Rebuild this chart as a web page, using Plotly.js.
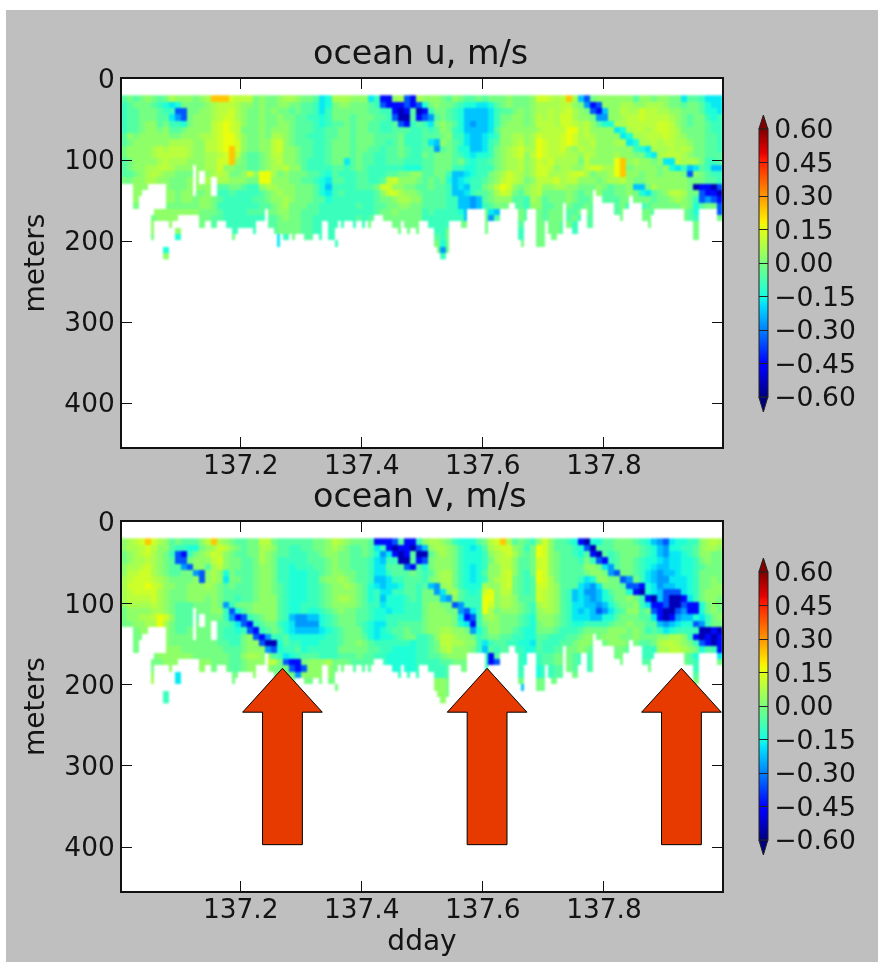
<!DOCTYPE html>
<html><head><meta charset="utf-8">
<script src="https://cdn.plot.ly/plotly-3.0.1.min.js"></script>
<style>
html,body{margin:0;padding:0;background:#fff;width:882px;height:963px;overflow:hidden}
#p{position:absolute;left:6px;top:10px;width:872px;height:952px;filter:blur(.55px)}
#p .heatmaplayer{filter:blur(1.1px)}
</style></head><body><div id="p"></div>
<script>
// velocity levels (m/s) used by the letter codes in the rows below
const levelCodes = {a:-.54,b:-.44,c:-.35,d:-.27,e:-.22,f:-.175,g:-.135,h:-.095,i:-.055,j:-.01,k:.03,l:.065,m:.09,n:.12,o:.16,p:.24};
const tickDays = [137.2,137.4,137.6,137.8];
const tickDepths = [0,100,200,300,400];
const cbarTicks = [-.6,-.45,-.3,-.15,0,.15,.3,.45,.6];
const arrowTipDays = [137.269,137.607,137.928];

// ocean u: 26 depth bins (top to bottom), 100 time groups (10 per block)
const uRows = [
"ijijkjijlk kkjklpppnm mmjkjjkllk jjifglllkk kfhbbklcbl kkkjikjiij ijjjkjjjkn nmlmplecjk kkkkkikkjk kjjfiihfff",
"hijjjihgfg jjjjklmmml kkjkjjkkjj iihfgjkkjj jihcbbbcbc gjkjjihggf fgijkjjjkl lllmmkjdbc kkkllkklll kjjijjigff",
"hiijjjihhc cjjkklmmnl kjjkjkjjij iihfhjjjjj jiihhbabia bhjjihgeee efhiijkjkl lmlmnlkjcb ekkmllnmml lkkjjjiggf",
"hiijjjiifd cjkkklmnnl kjjkjjkjji ihhghjjjij jjiihcaaib cdijihgeee efhjjkkjkm lmlnnlkkjd dkklmmnmmm mlkjijjhgh",
"hiijkkijhh gjkkkmnonm kjjkjjkkji iihghiijij jiihhicbhi hfjkjigede efhjkkkjkm mmlnnmlmki ggllmmmmmn nmkjijjihh",
"hiijkkjkii jkkkkmnonm jjjkjkkkji iihhiijjij jiihhiiihh ihikjhgeee efikkkkkkl mmmmoolmkk kkfglmmlmn nmljjjjihh",
"ikjkkkkkjj kkkllmnoom kjjkjllkji ihhhiijjij jjiiiijhhh iiijkhhfee fghkkllkln mmmnonlmlk kkkfgllmmm nmlkjjjiih",
"ijkkkkkkll llkkmmnoon kjjkkmnkji iihhijjjij jjiihijhhh ifekjihfee fhikklmklo nmmnonllmk kkllfgllml mmllkjjiih",
"jkkkklmlmm mlkkmmnopn kjjkkmnkkj iihhijjjij jiihiijihh iidijiggee fhjklmnllo nmmnlkmllk kkkkkhgfll lmlmljjiih",
"jkkkklmmmm mlkkllmnpm jiijkmmkkj iihhijjjij iihhiijihh jijjjihgfg ghjklmnkmo nmmmllkmlk kklkkjjgfl mmmlkjjiii",
"ijkkkklmll lkkkllnnpk jiijklmkkj ihhhijjfij iihhiiihhh iijjjijhgh hijkllmkln mnlllljmkk kkopklkkjk ffmllljhhi",
"ijkkllmmlk kkkkllnkkj jiijkllmkk ihhhhiihij ihhhhhhggg iijjjhhggh hhjkllmkln nmkllkkmnn llopjkkkkj kgfhefihee",
"iijklmlkkj jjkkklmljj knkooljkjj jiihgihhhi ihhhiijjkk iijjheefgh hjklnmlkln nlllmnnljk klopkkjkkj kkkjckjihh",
"jjkkllkkjj jkkkllllkk kjjookkkjj iihgfiihhi ihhimnkkkj ijijgefghh ijkmnmljkm mmnlmmkkkj kllmkjjkkk kkkkjjjiih",
"jjkkkkkkjj jkkkkkiijj ihhkllkkkj jjigehhhhi iijnnkkjji ijiihefehh jkmonkjklm kkllkkjjjk jijjkeejlk kkkkjabbac",
"jkkkkkkkkj kkjjkjhhih hhhijklkkj jjigfhihhh hhiknnlkkj iiiiheefhi ijlnmjiklm jjjjkjijjk iijjkjgfij kmmljjcbba",
"jjkjjjkkkj kkjkkjihhh hhiijkklkj jjiighhhhh hhijjkllkk iiiihheede ijkkkiihlk ijjjkjiijj iiijjjjjij jklkjhcdcb",
"jjjjjjjjjj jjjkkjhhhh hhhiijkljj jiihhhhhhi hhiijjkkjj iiiihheede hijjjiihkk iijjjiijij hhijhhhijj jjjkjgijjc",
"jjjjjkkkkk kkkjjjihhh hiiijjkkjj iiihhhhhhh hhijjkjjjj hihhhhgeef jfejjijijj ijjjiijjii ihijjijjij jjjjigiijc",
"jjjjjjkkkk kkjjjiihhh hhhhiijkjj iihhhhhhhi hiijjjjjjj hhhhhhhejj jdihjijijj ijjjijhiii ijjjjjjjjj jjjjihiijj",
"kkkkkkkkkk kjjjjiihhh hhhhiijjjj iihhhhhhhh hjjjjjjjjj ihhhhhjjjj jijjjiiijj jjjijhiiii jjjjjjjjjj jjjjijjjjj",
"kkkkkkkkkk kjjjjhiihh hhhhiijjjj iihhhhhhhh hjjjjjjjjj iihhjjjjjj jhjjjhhiij jjjihhhiii jjjjjjjjjj jjjjijjjjj",
"jjjjjjjjjg jjjjjjjjjj hhhhhhfhjj iihhhhhhhh jjjjjjjjjj jiihjjjjjj jjjjjjhhij jjjjhhiijj jjjjjjjjjj jjjjjjjjjj",
"jjjjjjjjjj jjjjjjjjjj hhhhhhfhjj iihhhhhhhh jjjjjjjjjj jjjgjjjjjj jjjjjjjjij jjjjjjjjjj jjjjjjjjjj jjjjjjjjjj",
"jjjjjjjgjj jjjjjjjjjj jjjjjjjjjj jjjjjjjjjj jjjjjjjjjj jjjdjjjjjj jjjjjjjjjj jjjjjjjjjj jjjjjjjjjj jjjjjjjjjj",
"jjjjjjjkjj jjjjjjjjjj jjjjjjjjjj jjjjjjjjjj jjjjjjjjjj jjjhjjjjjj jjjjjjjjjj jjjjjjjjjj jjjjjjjjjj jjjjjjjjjj"
];

// ocean v: same grid
const vRows = [
"klmnpnlkij iiikmplkji ijjmmjiiii iijjkmlkjj jibbbcibbh kllkjhgggi jmnplijihk nkiihgbagg iijjjihged cfgghhklml",
"kllmnmkkih hggjklnmkj ijjllkiihh iijjklkjii jifhbabbac ekllkjhgfg ilmnnkjhjo nkiiihgcai iijjjjihge dgghhikllk",
"jklmnlkjhc bhjklnmkji ijjlkjiihh hiijkkjjii jigdfbabia aiklkjhggg hklmnljijo nkjiihgiba ihijjjihge dffghikkjj",
"jkllmlkjic cjkkkmnkjj iijlkjhhhh hiiijkjjii ihfehhaaib cjkkkjhggg hjlmmkiijn nkjiiihjhc bhijjihggf effgghjkjj",
"kllmnlkjii dckkilmkjj iijkkjhhgh hhiijkjjii ihffiiicbi gjkkkjhgfg hkkmmkiijn nkjiiiikkj fdijjihgfe effgghijjj",
"kmmnnlkjii jjdcklkgji iijkkjhhgg ghhijkkjji ihffhiiiji hiklljhgfg ikkmnkihjo nkjiiiijkk jdcjjihfed eefgghjjjj",
"lmnnnmlkjj jjkcklkfjj iijkkjhhgg ghhjkklkji iheefhhiii hjklljhgfg hklmnjihio nljiiihfgk kjjcdjhfed dfffghjjkj",
"lnnnonmkkj jkkklkjiji iijkkjihgg ghhijkklkj igfeffgiih iedkljhggg lkkmnjihin nlkiiifedf jjjiccbgfd eeffghjjkk",
"lmnnnnlkjj jkkkkkjiii iijkkjihgg ghhijkkkkj ighffhhiih jjdfklihgh nokmmjihin mlkihefdde gijjgbagfe cccfghjkkk",
"lmmmmnlkjj jkkkjkjiih iijkkkihgg ghhijkllkj igheggghih jjjedkihhh ookllkiiin mlkihefede ghjjkjhbae caabfhjkkj",
"kllllmlkji iijjjkjdhj jjkkkkihgg hhhijkkkkj ihhfggghhh jkkjjcdhhh onkllkjihl mlkihffeed egijjkhfbb caacbbgjkj",
"jkkkkllkji iijjjkkhcg ijkkkkihgg hgghijkjji ihggfgghhh jkkkjjdcfh oljkkkjihk llkihfefec dfhikkijcb aacdbbgjkj",
"jkkllmonki iiijjjjhdb chijkkihed deeghijjji ihgghhhhhh jkkkkjfbch klkjjjihgk kkjihfffee ggijjjiifb abdeegfhjk",
"jjkkllolji iijjjjiihf cbhijjhgfd dddghijjji hgffhhiiii jkkkkjgfbh jkkjjjihgj kkjihgghhh hijjkjjiie defggcdhjj",
"jjjkkkkkji ijjjjjihhg hcbhijigfe eeefghijjj hgfghiijii jkkllkkjdg ikkjjihggj jjihhhijjj jkkkjkjhih fghhhhaaba",
"jjjjkkkkjj jjjjjjihhh jkcbdhhigg gggghhijjj igfgghijjh hikmmlkkjh ijjiihhggi ihhhiijkkj kkkjjkjjjk kllkhbabab",
"jjjjjkkkjj jjjjjjiihh jkkcaagihh ggghhhijjk jihhhhhhgh hijmmllkkh fhiihhggfi hhhiijkkjj jkkkjjiijl mmlkjhcbab",
"jjjjjjkkkk jjjjjjjiii jkkkdcghhi ghhhhhjjjj jiihhggggh hijlmkkkjh eihiihhggi hhiijjkjii ijjjihhhhl lmmlkjgihb",
"jjjjjjkkkk kkjjjjjjii kllkkihfgh iiihhhiiij iihhgggggh hiijkkkkig hbiihhhggh iijjjihhii ijjjhhhhhj jjjjigiihf",
"kkjjjjjkkk kllkkjjjii jkkkmmjcbb jkkkljjjii iihhgggggh hhhiijjjhh hbchhhhggh iijjjihhii iiijjiiiij jjjjihhiij",
"llkkjjjkkk kkkkkjjjii jkkkkjjjcb ckkkkjjiih iihhhggggh hhhhiijjhh hahhhhhggg hhiijihhii iiiiiijjjj jjjjjhhiij",
"llkkkkkkkf kkkjjjjjjj kkkkkjjjjd kkkkkjjjii iihhhhhhhh hhhhiijjjj hhhhhhhhgg hhiijjhhhh iiiiiijjjj jjjjjiiijj",
"llllllkkkf jjjjjjjjjj kkkkkkkkjj jjjjjjjjjj jiijjjjjjj kkkkjjjjjj jjjjjjjhhj jjjjjjjjjj jjjjjjjjjj jjjjjjjjjj",
"jjjjjjjjjj jjjjjjjjjj jjjjjjjjjj jjjjjjjjjj jjjjjjjjjj kkkkjjjjjj jjjjjjejjj jjjjjjjjjj jjjjjjjjjj jjjjjjjjjj",
"jjjjjjjhjj jjjjjjjjjj jjjjjjjjjj jjjjjjjjjj jjjjjjjjjj jjkkjjjjjj jjjjjjjjjj jjjjjjjjjj jjjjjjjjjj jjjjjjjjjj",
"jjjjjjjhjj jjjjjjjjjj jjjjjjjjjj jjjjjjjjjj jjjjjjjjjj jjkkjjjjjj jjjjjjjjjj jjjjjjjjjj jjjjjjjjjj jjjjjjjjjj"
];

// number of valid depth bins in each of the 200 profiles
const validBins = [
14,14,14,14,18,18,16,15,15,14,14,14,14,14,14,20,21,20,20,19,
19,19,19,19,19,19,21,21,20,20,21,21,20,20,20,21,21,23,22,21,
21,21,21,21,22,20,20,20,18,21,21,22,24,22,23,23,22,23,22,22,
22,23,23,23,22,22,23,20,20,23,23,21,20,21,20,20,20,21,20,20,
21,20,21,20,19,19,19,20,20,20,21,21,22,20,21,22,21,21,22,20,
20,20,21,21,24,25,26,26,25,20,20,20,20,21,21,18,18,18,18,18,
18,22,20,20,20,20,18,18,18,17,17,18,23,24,20,18,18,18,24,24,
24,20,22,23,23,22,22,17,21,21,22,22,20,18,18,21,21,15,16,16,
17,17,17,17,19,19,20,18,18,16,17,17,17,20,20,21,19,18,18,18,
18,18,18,18,18,18,18,20,20,20,23,23,18,18,18,18,18,18,20,20];
// detached valid patches below the edge [firstProfile,lastProfile,firstBin,lastBin]
const islands = [[10,10,20,22],[11,13,18,19],[10,14,19,19],[14,14,18,19],[18,19,21,22],[14,15,24,25],[71,71,23,23]];
// missing patches inside the valid part
const holes = [[24,24,11,15],[26,27,12,13],[30,31,13,15]];

const day0 = 137.0045, dayStep = 0.00497, depth0 = 24, depthStep = 7.8;

function buildZ(rows){
  const grid = rows.map(r => r.split(' ').map(s => s.padEnd(10,s[s.length-1]).slice(0,10)).join(''));
  return grid.map((row,r) => {
    const out = [];
    for(let c=0;c<200;c++){
      let ok = r < validBins[c];
      islands.forEach(b => { if(c>=b[0]&&c<=b[1]&&r>=b[2]&&r<=b[3]) ok = true; });
      holes.forEach(b => { if(c>=b[0]&&c<=b[1]&&r>=b[2]&&r<=b[3]) ok = false; });
      out.push(ok ? levelCodes[row[Math.floor(c/2)]] : null);
    }
    return out;
  });
}

const jet = [[0,'#00007f'],[.11,'#0000ff'],[.125,'#0000ff'],[.34,'#00dcff'],[.375,'#14ffe2'],[.64,'#eeff08'],[.66,'#ffec00'],[.89,'#ff1300'],[.91,'#e80000'],[1,'#800000']];
const txt = '#141414', font = 'DejaVu Sans';
const L=122,R=724,T=79,B=891,W=872,H=952,ML=116,MT=69,MB=71;
const fx = px => (px-L)/(R-L), fy = py => (B-py)/(B-T);

function cbar(yc){return {x:fx(761),xanchor:'left',thickness:9,thicknessmode:'pixels',len:268,lenmode:'pixels',y:fy(yc),yanchor:'middle',
  tickvals:cbarTicks,tickformat:'.2f',ticks:'inside',ticklen:9,tickwidth:1,tickcolor:'#222',outlinecolor:'#222',outlinewidth:1,
  tickfont:{family:font,size:26.6,color:txt},ypad:0,xpad:0,ticklabelposition:'outside'};}
const hm = (rows,xa,ya,yc) => ({type:'heatmap',z:buildZ(rows),x0:day0,dx:dayStep,y0:depth0,dy:depthStep,xaxis:xa,yaxis:ya,
  zmin:-.6,zmax:.6,colorscale:jet,colorbar:cbar(yc),hoverongaps:false,xgap:0,ygap:0});

const xax = extra => Object.assign({range:[137.004,137.995],tickmode:'array',tickvals:tickDays,tickformat:'.1f',ticks:'inside',ticklen:10,tickwidth:1,tickcolor:'#111',
  showline:true,linecolor:'#111',linewidth:2,mirror:'ticks',showgrid:false,zeroline:false,ticklabelstandoff:-7,tickfont:{family:font,size:26.4,color:txt}},extra);
const yax = (dom,extra) => Object.assign({domain:dom,range:[454,0],tickmode:'array',tickvals:tickDepths,ticks:'inside',ticklen:10,tickwidth:1,tickcolor:'#111',
  showline:true,linecolor:'#111',linewidth:2,mirror:'ticks',showgrid:false,zeroline:false,tickfont:{family:font,size:26.4,color:txt},
  title:{text:'meters',standoff:12,font:{family:font,size:28,color:txt}}},extra);

const arrowShapes = arrowTipDays.map(d => {
  const hw=.0658, sw=.0329, tip=180, base=234, end=397;
  return {type:'path',xref:'x2',yref:'y2',layer:'above',fillcolor:'#e63a00',line:{color:'#000',width:1},
    path:`M${d},${tip}L${d+hw},${base}L${d+sw},${base}L${d+sw},${end}L${d-sw},${end}L${d-sw},${base}L${d-hw},${base}Z`};
});
function tri(yBase,yTip,col){const a=fx(761),b=fx(770),m=fx(765.5);
  return {type:'path',xref:'paper',yref:'paper',fillcolor:col,line:{color:'#222',width:1},
    path:`M${a},${fy(yBase)}L${m},${fy(yTip)}L${b},${fy(yBase)}Z`};}

const layout = {width:W,height:H,paper_bgcolor:'#bfbfbf',plot_bgcolor:'#fff',showlegend:false,
  margin:{l:ML,r:W-ML-(R-L),t:MT,b:MB,pad:0},font:{family:font,color:txt},
  xaxis:xax({domain:[0,1],anchor:'y'}),
  yaxis:yax([fy(447),1],{anchor:'x'}),
  xaxis2:xax({domain:[0,1],anchor:'y2',title:{text:'dday',standoff:2,font:{family:font,size:28,color:txt}}}),
  yaxis2:yax([0,fy(522)],{anchor:'x2'}),
  annotations:[
   {text:'ocean u, m/s',xref:'paper',yref:'paper',x:fx(421),y:fy(53),xanchor:'center',yanchor:'middle',showarrow:false,font:{family:font,size:33.4,color:txt}},
   {text:'ocean v, m/s',xref:'paper',yref:'paper',x:fx(421),y:fy(495),xanchor:'center',yanchor:'middle',showarrow:false,font:{family:font,size:33.4,color:txt}}
  ],
  shapes:[...arrowShapes,tri(129,115,'#800000'),tri(397,412,'#00007f'),tri(572,558,'#800000'),tri(840,855,'#00007f')]
};
Plotly.newPlot('p',[hm(uRows,'x','y',263),hm(vRows,'x2','y2',706)],layout,{staticPlot:true,displayModeBar:false});
</script></body></html>
